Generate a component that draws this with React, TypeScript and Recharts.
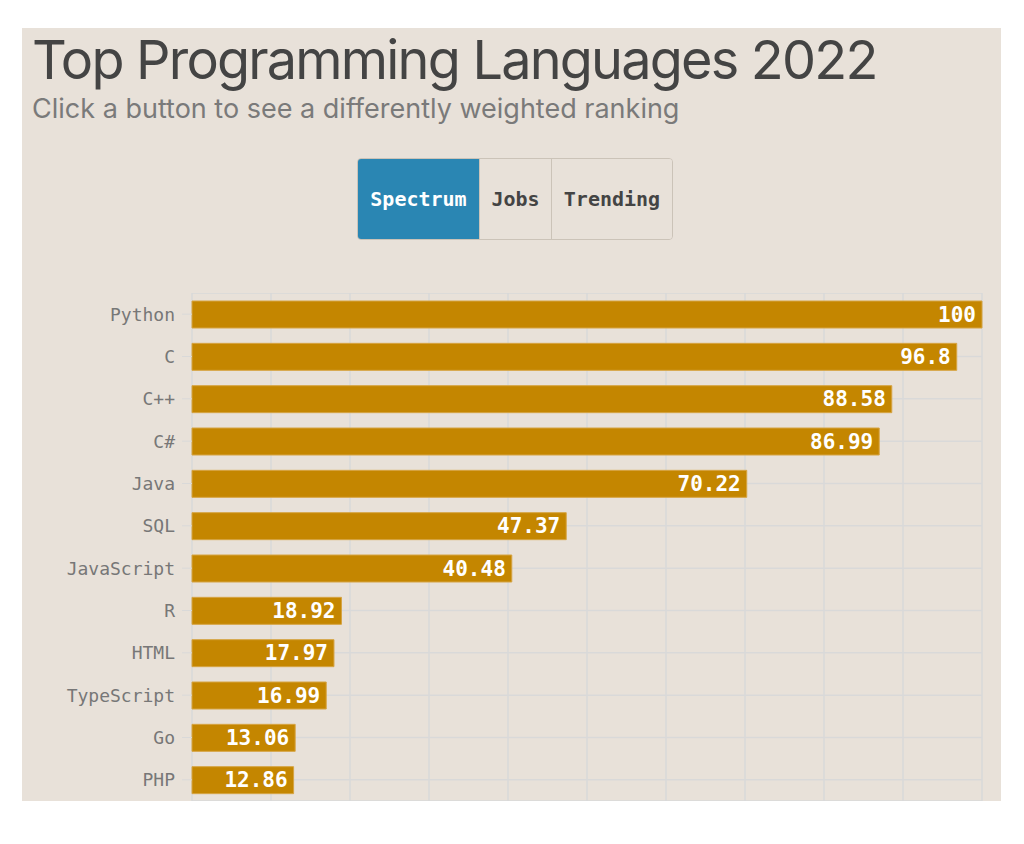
import { BarChart, Bar, XAxis, YAxis, CartesianGrid, LabelList } from 'recharts';

const languages = ['Python', 'C', 'C++', 'C#', 'Java', 'SQL', 'JavaScript', 'R', 'HTML', 'TypeScript', 'Go', 'PHP'];
const scores = [100, 96.8, 88.58, 86.99, 70.22, 47.37, 40.48, 18.92, 17.97, 16.99, 13.06, 12.86];
const xTicks = [0, 10, 20, 30, 40, 50, 60, 70, 80, 90, 100];
const buttons = ['Spectrum', 'Jobs', 'Trending'];
const buttonWidths = [121, 72, 121];

const data = languages.map((name, i) => ({ name, score: scores[i] }));

const BG = '#e8e1d9';
const BAR = '#c48600';
const MONO = '"DejaVu Sans Mono", "Liberation Mono", monospace';

const ValueLabel = (props: any) => {
  const { x, y, width, height, value } = props;
  return (
    <text
      x={x + width - 6}
      y={y + height / 2}
      textAnchor="end"
      dominantBaseline="central"
      fill="#fff"
      fontFamily={MONO}
      fontWeight="bold"
      fontSize={21}
    >
      {value}
    </text>
  );
};

// x axis ticks are only needed for the grid, the axis itself is cut off by the panel
const NoTick = () => <g />;

export default function App() {
  return (
    <div style={{ position: 'absolute', left: 0, top: 0, width: 1024, height: 844, background: '#fff' }}>
      <div
        style={{
          position: 'absolute',
          left: 22,
          top: 28,
          width: 979,
          height: 773,
          background: BG,
        }}
      >
        {/* Title */}
        <div
          style={{
            position: 'absolute',
            left: 10,
            top: 1,
            fontFamily: 'Inter, sans-serif',
            fontSize: 54,
            letterSpacing: -1.8,
            lineHeight: 1.15,
            color: '#444',
            whiteSpace: 'nowrap',
          }}
        >
          Top Programming Languages 2022
        </div>
        <div
          style={{
            position: 'absolute',
            left: 10,
            top: 64,
            fontFamily: 'Inter, sans-serif',
            fontSize: 27,
            color: '#7a7a7a',
            whiteSpace: 'nowrap',
          }}
        >
          Click a button to see a differently weighted ranking
        </div>

        {/* Buttons */}
        <div
          style={{
            position: 'absolute',
            left: 335,
            top: 130,
            height: 82,
            display: 'flex',
            border: '1px solid #cbc3b8',
            borderRadius: 4,
            overflow: 'hidden',
            boxSizing: 'border-box',
          }}
        >
          {buttons.map((b, i) => (
            <div
              key={b}
              style={{
                display: 'flex',
                alignItems: 'center',
                justifyContent: 'center',
                width: buttonWidths[i],
                boxSizing: 'border-box',
                background: i === 0 ? '#2a86b3' : BG,
                color: i === 0 ? '#fff' : '#444',
                borderLeft: i > 0 ? '1px solid #cbc3b8' : 'none',
                fontFamily: MONO,
                fontWeight: 'bold',
                fontSize: 20,
              }}
            >
              {b}
            </div>
          ))}
        </div>

        {/* Chart, clipped at the bottom of the panel */}
        <div style={{ position: 'absolute', left: 0, top: 265, width: 979, height: 508, overflow: 'hidden' }}>
          <BarChart
            width={979}
            height={538}
            data={data}
            layout="vertical"
            margin={{ top: 0, right: 19, bottom: 0, left: 0 }}
          >
            <CartesianGrid stroke="#d9d9d9" strokeWidth={1.5} />
            <XAxis
              type="number"
              domain={[0, 100]}
              ticks={xTicks}
              height={30}
              tick={NoTick}
              tickLine={false}
              axisLine={false}
            />
            <YAxis
              type="category"
              dataKey="name"
              width={170}
              axisLine={false}
              tickSize={10}
              tickMargin={7}
              tickLine={{ stroke: '#d9d9d9' }}
              tick={{ fill: '#777', fontFamily: MONO, fontSize: 18 }}
            />
            <Bar dataKey="score" fill={BAR} stroke="#d6a443" strokeWidth={1} barSize={27} isAnimationActive={false}>
              <LabelList dataKey="score" content={ValueLabel} />
            </Bar>
          </BarChart>
        </div>
      </div>
    </div>
  );
}
